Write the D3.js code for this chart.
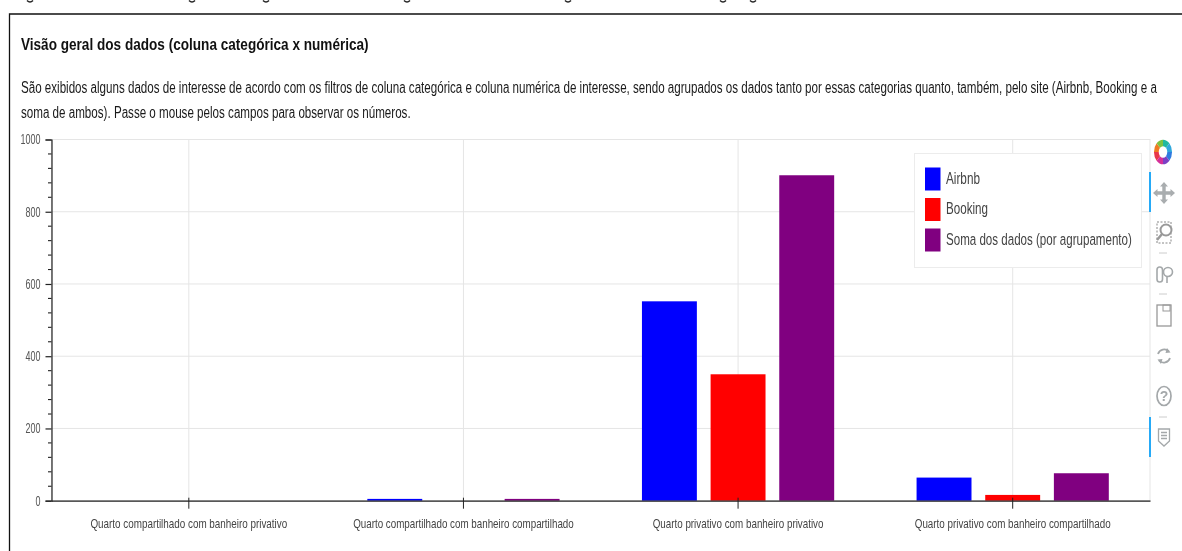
<!DOCTYPE html>
<html>
<head>
<meta charset="utf-8">
<script src="https://cdn.jsdelivr.net/npm/d3@7/dist/d3.min.js"></script>
<style>
html,body{margin:0;padding:0;background:#fff;overflow:hidden}
svg{display:block;filter:blur(0.35px)}
text{font-family:"Liberation Sans",Arial,sans-serif}
</style>
</head>
<body>
<svg id="chart" width="1182" height="551"></svg>
<script>
const categories = ["Quarto compartilhado com banheiro privativo","Quarto compartilhado com banheiro compartilhado","Quarto privativo com banheiro privativo","Quarto privativo com banheiro compartilhado"];
const seriesNames = ["Airbnb","Booking","Soma dos dados (por agrupamento)"];
const seriesColors = ["#0000ff","#ff0000","#800080"];
const airbnb = [0,5,552,64];
const booking = [0,0,350,16];
const soma = [0,5,901,76];
const yTicks = [0,200,400,600,800,1000];
const yMinorTicks = d3.range(0,1001,40).filter(v=>v%200!==0);
const titleText = "Visão geral dos dados (coluna categórica x numérica)";
const descLines = ["São exibidos alguns dados de interesse de acordo com os filtros de coluna categórica e coluna numérica de interesse, sendo agrupados os dados tanto por essas categorias quanto, também, pelo site (Airbnb, Booking e a","soma de ambos). Passe o mouse pelos campos para observar os números."];
const labelWidths = [197,221,171,196];
const logoColors = ["#1fb8a0","#2fa8dc","#2f7be0","#7b3fc4","#d42f9a","#e8374a","#f07a22","#7cc242"];
const clippedDescenders = [30,192,266,407,568,723,753];

const svg = d3.select("#chart");
const plotLeft = 51.5, plotRight = 1150, plotTop = 139.5, plotBottom = 500.7;

const x = d3.scaleBand().domain(categories).range([plotLeft,plotRight]).padding(0);
const y = d3.scaleLinear().domain([0,1000]).range([plotBottom,plotTop]);
const series = [airbnb,booking,soma];

// squeezes a text horizontally to a target width, about its own anchor point
function squeeze(node,width){
  const s = width/node.getComputedTextLength();
  const px = +node.getAttribute("x")||0;
  node.setAttribute("transform",`translate(${px},0) scale(${s},1) translate(${-px},0)`);
}

// remains of a caption cut off by the screenshot's upper edge
svg.append("g").selectAll("path").data(clippedDescenders).join("path")
  .attr("transform",d=>`translate(${d},0)`)
  .attr("d","M-3,0.5Q0,3.5 3,0.5").attr("fill","none").attr("stroke","#222").attr("stroke-width",1.5);

// outer frame
svg.append("path").attr("d","M9.5,551V14H1182").attr("fill","none").attr("stroke","#111").attr("stroke-width",1.3);

// heading and description
svg.append("text").attr("x",21).attr("y",50.5).attr("font-size",17).attr("font-weight","bold").attr("fill","#111")
  .text(titleText).each(function(){squeeze(this,348);});
svg.append("g").selectAll("text").data(descLines).join("text")
  .attr("x",21).attr("y",(d,i)=>93+i*25.2).attr("font-size",16).attr("fill","#1a1a1a")
  .text(d=>d).each(function(d,i){squeeze(this,[1136,390][i]);});

// plot outline and grid
svg.append("rect").attr("x",plotLeft).attr("y",plotTop).attr("width",plotRight-plotLeft).attr("height",plotBottom-plotTop)
  .attr("fill","#fff").attr("stroke","#e5e5e5");
svg.append("g").selectAll("line").data(categories).join("line")
  .attr("x1",d=>x(d)+x.bandwidth()/2).attr("x2",d=>x(d)+x.bandwidth()/2)
  .attr("y1",plotTop).attr("y2",plotBottom).attr("stroke","#e5e5e5");
svg.append("g").selectAll("line").data(yTicks).join("line")
  .attr("x1",plotLeft).attr("x2",plotRight).attr("y1",d=>y(d)).attr("y2",d=>y(d)).attr("stroke","#e5e5e5");

// grouped bars
const barW = x.bandwidth()*0.2, barStep = x.bandwidth()*0.25;
const x1 = d3.scaleBand().domain(seriesNames).range([-(barStep*3-(barStep-barW))/2,(barStep*3-(barStep-barW))/2]).paddingInner(0.2);
seriesNames.forEach((name,si)=>{
  svg.append("g").selectAll("rect").data(categories).join("rect")
    .attr("x",c=>x(c)+x.bandwidth()/2+x1(name))
    .attr("width",x1.bandwidth())
    .attr("y",(c,i)=>y(series[si][i]))
    .attr("height",(c,i)=>plotBottom-y(series[si][i]))
    .attr("fill",seriesColors[si]);
});

// axes
const yAxis = d3.axisLeft(y).tickValues(yTicks).tickSize(6).tickPadding(5).tickFormat(d3.format("d"));
const yg = svg.append("g").attr("transform",`translate(${plotLeft},0)`).call(yAxis);
yg.select(".domain").attr("stroke","#222").attr("stroke-width",1.2);
yg.selectAll(".tick line").attr("stroke","#222").attr("x2",-6).attr("stroke-width",1.2);
yg.selectAll(".tick text").attr("font-size",14).attr("fill","#555").attr("font-family",null).attr("x",-11)
  .each(function(d){squeeze(this,String(d).length*5);});
yg.append("g").selectAll("line").data(yMinorTicks).join("line")
  .attr("x1",-3.5).attr("x2",0).attr("y1",d=>y(d)).attr("y2",d=>y(d)).attr("stroke","#222").attr("stroke-width",1.1);

const xAxis = d3.axisBottom(x).tickSize(8).tickSizeOuter(0).tickPadding(10);
const xg = svg.append("g").attr("transform",`translate(0,${plotBottom})`).call(xAxis);
xg.select(".domain").attr("stroke","#222").attr("stroke-width",1.3);
xg.selectAll(".tick line").attr("stroke","#222").attr("y1",-3).attr("y2",8);
xg.selectAll(".tick text").attr("font-size",12.5).attr("fill","#444").attr("font-family",null)
  .each(function(d,i){squeeze(this,labelWidths[i]);});

// legend
const legend = svg.append("g");
legend.append("rect").attr("x",914.5).attr("y",153.5).attr("width",227).attr("height",114)
  .attr("fill","#fff").attr("stroke","#ececec");
const legendRow = d3.scalePoint().domain(seriesNames).range([179,240]);
const legendWidths = [34,42,186];
seriesNames.forEach((n,i)=>{
  legend.append("rect").attr("x",925).attr("y",legendRow(n)-11.5).attr("width",15.5).attr("height",23).attr("fill",seriesColors[i]);
  legend.append("text").attr("x",946).attr("y",legendRow(n)+5).attr("font-size",17).attr("fill","#444")
    .text(n).each(function(){squeeze(this,legendWidths[i]);});
});

// toolbar
const tb = svg.append("g");
[[172,212],[417,457]].forEach(([a,b])=>tb.append("line").attr("x1",1150).attr("x2",1150).attr("y1",a).attr("y2",b).attr("stroke","#26aaf7").attr("stroke-width",2));
const arc = d3.arc().innerRadius(4.5).outerRadius(9.5);
const pie = d3.pie().value(1).sort(null)(logoColors);
tb.append("g").attr("transform","translate(1163,152) scale(0.95,1.3)").selectAll("path").data(pie).join("path").attr("d",arc).attr("fill",d=>d.data);
const icon = "#a9adaf";
const seps = [253,294,417];
tb.append("g").selectAll("line").data(seps).join("line").attr("x1",1159).attr("x2",1167).attr("y1",d=>d).attr("y2",d=>d).attr("stroke","#ccc");
// pan
tb.append("path").attr("transform","translate(1164,193)")
  .attr("d","M0,-11L-4,-6.5H-1.7V-1.7H-6.5V-4L-11,0L-6.5,4V1.7H-1.7V6.5H-4L0,11L4,6.5H1.7V1.7H6.5V4L11,0L6.5,-4V-1.7H1.7V-6.5H4Z").attr("fill",icon);
// box zoom
const bz = tb.append("g").attr("transform","translate(1164,233)").attr("fill","none");
bz.append("rect").attr("x",-7).attr("y",-11).attr("width",14).attr("height",21).attr("stroke","#888").attr("stroke-dasharray","2,1.5");
bz.append("circle").attr("cx",2).attr("cy",-3).attr("r",5.5).attr("stroke","#999").attr("stroke-width",2).attr("fill","#fff");
bz.append("line").attr("x1",-2).attr("y1",1).attr("x2",-7).attr("y2",7).attr("stroke","#999").attr("stroke-width",2.5);
// wheel zoom
const wz = tb.append("g").attr("transform","translate(1164,275)").attr("fill","none").attr("stroke","#a4a8aa").attr("stroke-width",1.6);
wz.append("rect").attr("x",-7).attr("y",-8).attr("width",5.5).attr("height",15).attr("rx",2.7);
wz.append("circle").attr("cx",4).attr("cy",-3).attr("r",4.5);
wz.append("line").attr("x1",3).attr("y1",1).attr("x2",3).attr("y2",8);
// save
const sv = tb.append("g").attr("transform","translate(1164,316)").attr("fill","none").attr("stroke","#999").attr("stroke-width",1.3);
sv.append("rect").attr("x",-7).attr("y",-11).attr("width",14).attr("height",21);
sv.append("rect").attr("x",-1).attr("y",-11).attr("width",7).attr("height",6).attr("stroke-width",1);
// reset
const rs = tb.append("g").attr("transform","translate(1164,356)").attr("fill","none").attr("stroke","#a4a8aa").attr("stroke-width",1.8);
rs.append("path").attr("d","M-6,-2A6.5,6.5 0 0 1 5,-4.5");
rs.append("path").attr("d","M6,2A6.5,6.5 0 0 1 -5,4.5");
rs.append("path").attr("d","M3,-8L6.5,-3.5L1.5,-3Z M-3,8L-6.5,3.5L-1.5,3Z").attr("fill","#a4a8aa").attr("stroke","none");
// help
const hp = tb.append("g").attr("transform","translate(1164,396)");
hp.append("ellipse").attr("rx",7).attr("ry",9.5).attr("fill","none").attr("stroke","#a4a8aa").attr("stroke-width",1.7);
hp.append("text").attr("text-anchor","middle").attr("y",5).attr("font-size",14).attr("font-weight","bold").attr("fill","#a4a8aa").text("?");
// hover
const hv = tb.append("g").attr("transform","translate(1164,437)").attr("fill","none").attr("stroke","#a4a8aa").attr("stroke-width",1.3);
hv.append("path").attr("d","M-5.5,-8H5.5V4L0,9L-5.5,4Z");
hv.append("path").attr("d","M-3,-4.5H3M-3,-1.5H3M-3,1.5H3");
</script>
</body>
</html>
